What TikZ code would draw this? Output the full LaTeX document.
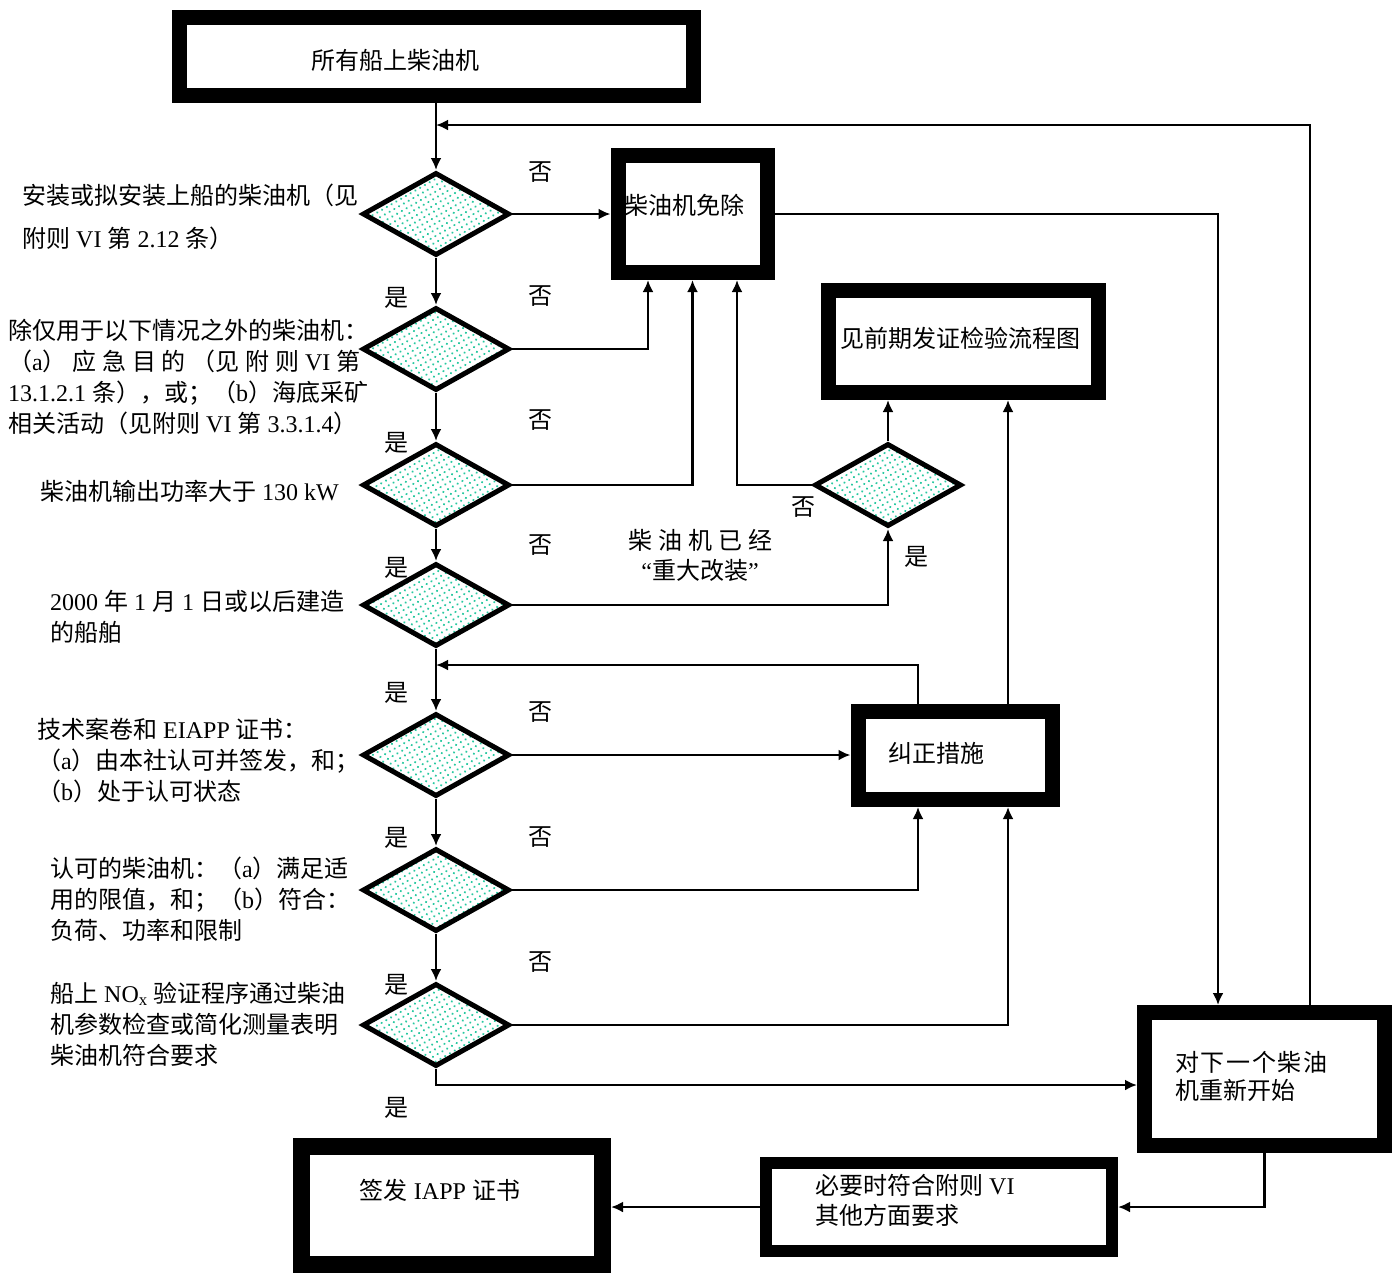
\documentclass[tikz,border=0pt]{standalone}
\usepackage{fontspec}
\setmainfont{Liberation Serif}
\newfontfamily\zhfont{Noto Sans CJK SC}
\XeTeXinterchartokenstate=1
\newXeTeXintercharclass\zhclass
\newcount\zhc
\def\zhrange#1#2{\zhc=#1\relax\loop\XeTeXcharclass\zhc=\zhclass\relax\ifnum\zhc<#2\advance\zhc by 1\repeat}
\zhrange{"3000}{"303F}
\zhrange{"4E00}{"9FFF}
\zhrange{"FF00}{"FFEF}
\XeTeXinterchartoks 0 \zhclass={\begingroup\zhfont}
\XeTeXinterchartoks 4095 \zhclass={\begingroup\zhfont}
\XeTeXinterchartoks \zhclass 0={\endgroup}
\XeTeXinterchartoks \zhclass 4095={\endgroup}
\usepackage{tikz}
\usetikzlibrary{shapes.geometric,arrows.meta,patterns.meta}
\definecolor{dotgreen}{RGB}{40,200,160}

\begin{document}
\begin{tikzpicture}
[x=1pt, y=-1pt, every node/.style={inner sep=0pt},
 box/.style={rectangle, draw=black, line width=15pt, fill=white},
 dia/.style={diamond, draw=black, line width=5pt, minimum width=147pt, minimum height=83pt, pattern={Dots[distance=5.5pt, radius=1.2pt, angle=30]}, pattern color=dotgreen},
 txt/.style={font=\fontsize{24}{31}\selectfont, align=left},
 link/.style={line width=2.5pt, -{Latex[length=12pt, width=11pt]}}]
\useasboundingbox (0,0) rectangle (1399,1275);
\node (b1) [box, minimum width=514pt, minimum height=78pt] at (436,56) {};
\node (b2) [box, minimum width=149pt, minimum height=117pt] at (692.5,214) {};
\node (b3) [box, minimum width=270pt, minimum height=102pt] at (963.5,341.5) {};
\node (b4) [box, minimum width=194pt, minimum height=88pt] at (955,755.5) {};
\node (b5) [box, minimum width=240pt, minimum height=133pt] at (1264.5,1079) {};
\node (b6) [box, line width=12pt, minimum width=346pt, minimum height=88pt] at (939,1207) {};
\node (b7) [box, line width=17pt, minimum width=301pt, minimum height=118pt] at (452,1205.5) {};
\node (d1) [dia] at (436,214) {};
\node (d2) [dia] at (436,349) {};
\node (d3) [dia] at (436,485) {};
\node (d4) [dia] at (436,605) {};
\node (d5) [dia] at (436,755) {};
\node (d6) [dia] at (436,890) {};
\node (d7) [dia] at (436,1025) {};
\node (d8) [dia] at (888,485) {};
\coordinate (t1) at (436,125);
\coordinate (t2) at (436,665);
\draw [link] (b1.south) -- (d1.north);
\draw [link] (d1.south) -- (d2.north);
\draw [link] (d2.south) -- (d3.north);
\draw [link] (d3.south) -- (d4.north);
\draw [link] (d4.south) -- (d5.north);
\draw [link] (d5.south) -- (d6.north);
\draw [link] (d6.south) -- (d7.north);
\draw [link] (d1.east) -- (b2.west);
\draw [link] (d2.east) -| ([xshift=-44.5pt]b2.south);
\draw [link] (d3.east) -| (b2.south);
\draw [link] (d8.west) -| ([xshift=44.5pt]b2.south);
\draw [link] (d4.east) -| (d8.south);
\draw [link] (d8.north) -- (d8.north |- b3.south);
\draw [link] (d5.east) -- (d5.east -| b4.west);
\draw [link] (d6.east) -| ([xshift=-37pt]b4.south);
\draw [link] (d7.east) -| ([xshift=53pt]b4.south);
\draw [link] ([xshift=53pt]b4.north) -- ([xshift=53pt]b4.north |- b3.south);
\draw [link] ([xshift=-37pt]b4.north) |- (t2);
\draw [link] ([xshift=45.5pt]b5.north) |- (t1);
\draw [link] (b2.east) -| ([xshift=-46.5pt]b5.north);
\draw [link] (d7.south) |- ([yshift=-6pt]b5.west);
\draw [link] (b5.south) |- (b6.east);
\draw [link] (b6.west) -- (b6.west -| b7.east);
\node (b1t) [txt] at (395,60) {所有船上柴油机};
\node (b2t) [txt, anchor=west] at (624,205) {柴油机免除};
\node (b3t) [txt] at (960,338) {见前期发证检验流程图};
\node (b4t) [txt, anchor=west] at (888,753) {纠正措施};
\node (b5t) [txt, anchor=west] at (1175,1076) {\makebox[152pt][s]{对\hfil 下\hfil 一\hfil 个\hfil 柴\hfil 油}\\[-3pt]机重新开始};
\node (b6t) [txt, anchor=west] at (815,1200) {必要时符合附则 VI\\[-1pt]其他方面要求};
\node (b7t) [txt] at (440,1190) {签发 IAPP 证书};
\node (d1t) [txt, anchor=west] at (22,216.5) {安装或拟安装上船的柴油机（见\\[12pt]附则 VI 第 2.12 条）};
\node (d2t) [txt, anchor=west] at (8,377) {除仅用于以下情况之外的柴油机：\\\makebox[352pt][s]{（a）\hfil 应\hfil 急\hfil 目\hfil 的\hfil （见\hfil 附\hfil 则\hfil VI\hfil 第}\\13.1.2.1 条），或；（b）海底采矿\\相关活动（见附则 VI 第 3.3.1.4）};
\node (d3t) [txt, anchor=west] at (40,491) {柴油机输出功率大于 130 kW};
\node (d4t) [txt, anchor=west] at (50,616.5) {2000 年 1 月 1 日或以后建造\\的船舶};
\node (d5t) [txt, anchor=west] at (37,760) {技术案卷和 EIAPP 证书：\\（a）由本社认可并签发，和；\\（b）处于认可状态};
\node (d6t) [txt, anchor=west] at (50,899) {认可的柴油机：（a）满足适\\用的限值，和；（b）符合：\\负荷、功率和限制};
\node (d7t) [txt, anchor=west] at (50,1024) {船上 NO\textsubscript{x} 验证程序通过柴油\\机参数检查或简化测量表明\\柴油机符合要求};
\node (d8t) [txt, align=center] at (700,555) {柴 油 机 已 经\\[-1pt]“重大改装”};
\node (y1) [txt] at (396,298) {是};
\node (y2) [txt] at (396,443) {是};
\node (y3) [txt] at (396,568) {是};
\node (y4) [txt] at (396,693) {是};
\node (y5) [txt] at (396,838) {是};
\node (y6) [txt] at (396,985) {是};
\node (y7) [txt] at (396,1108) {是};
\node (y8) [txt] at (916,557) {是};
\node (n1) [txt] at (540,172) {否};
\node (n2) [txt] at (540,296) {否};
\node (n3) [txt] at (540,420) {否};
\node (n4) [txt] at (540,545) {否};
\node (n5) [txt] at (540,712) {否};
\node (n6) [txt] at (540,837) {否};
\node (n7) [txt] at (540,962) {否};
\node (n8) [txt] at (803,507) {否};
\end{tikzpicture}
\end{document}
